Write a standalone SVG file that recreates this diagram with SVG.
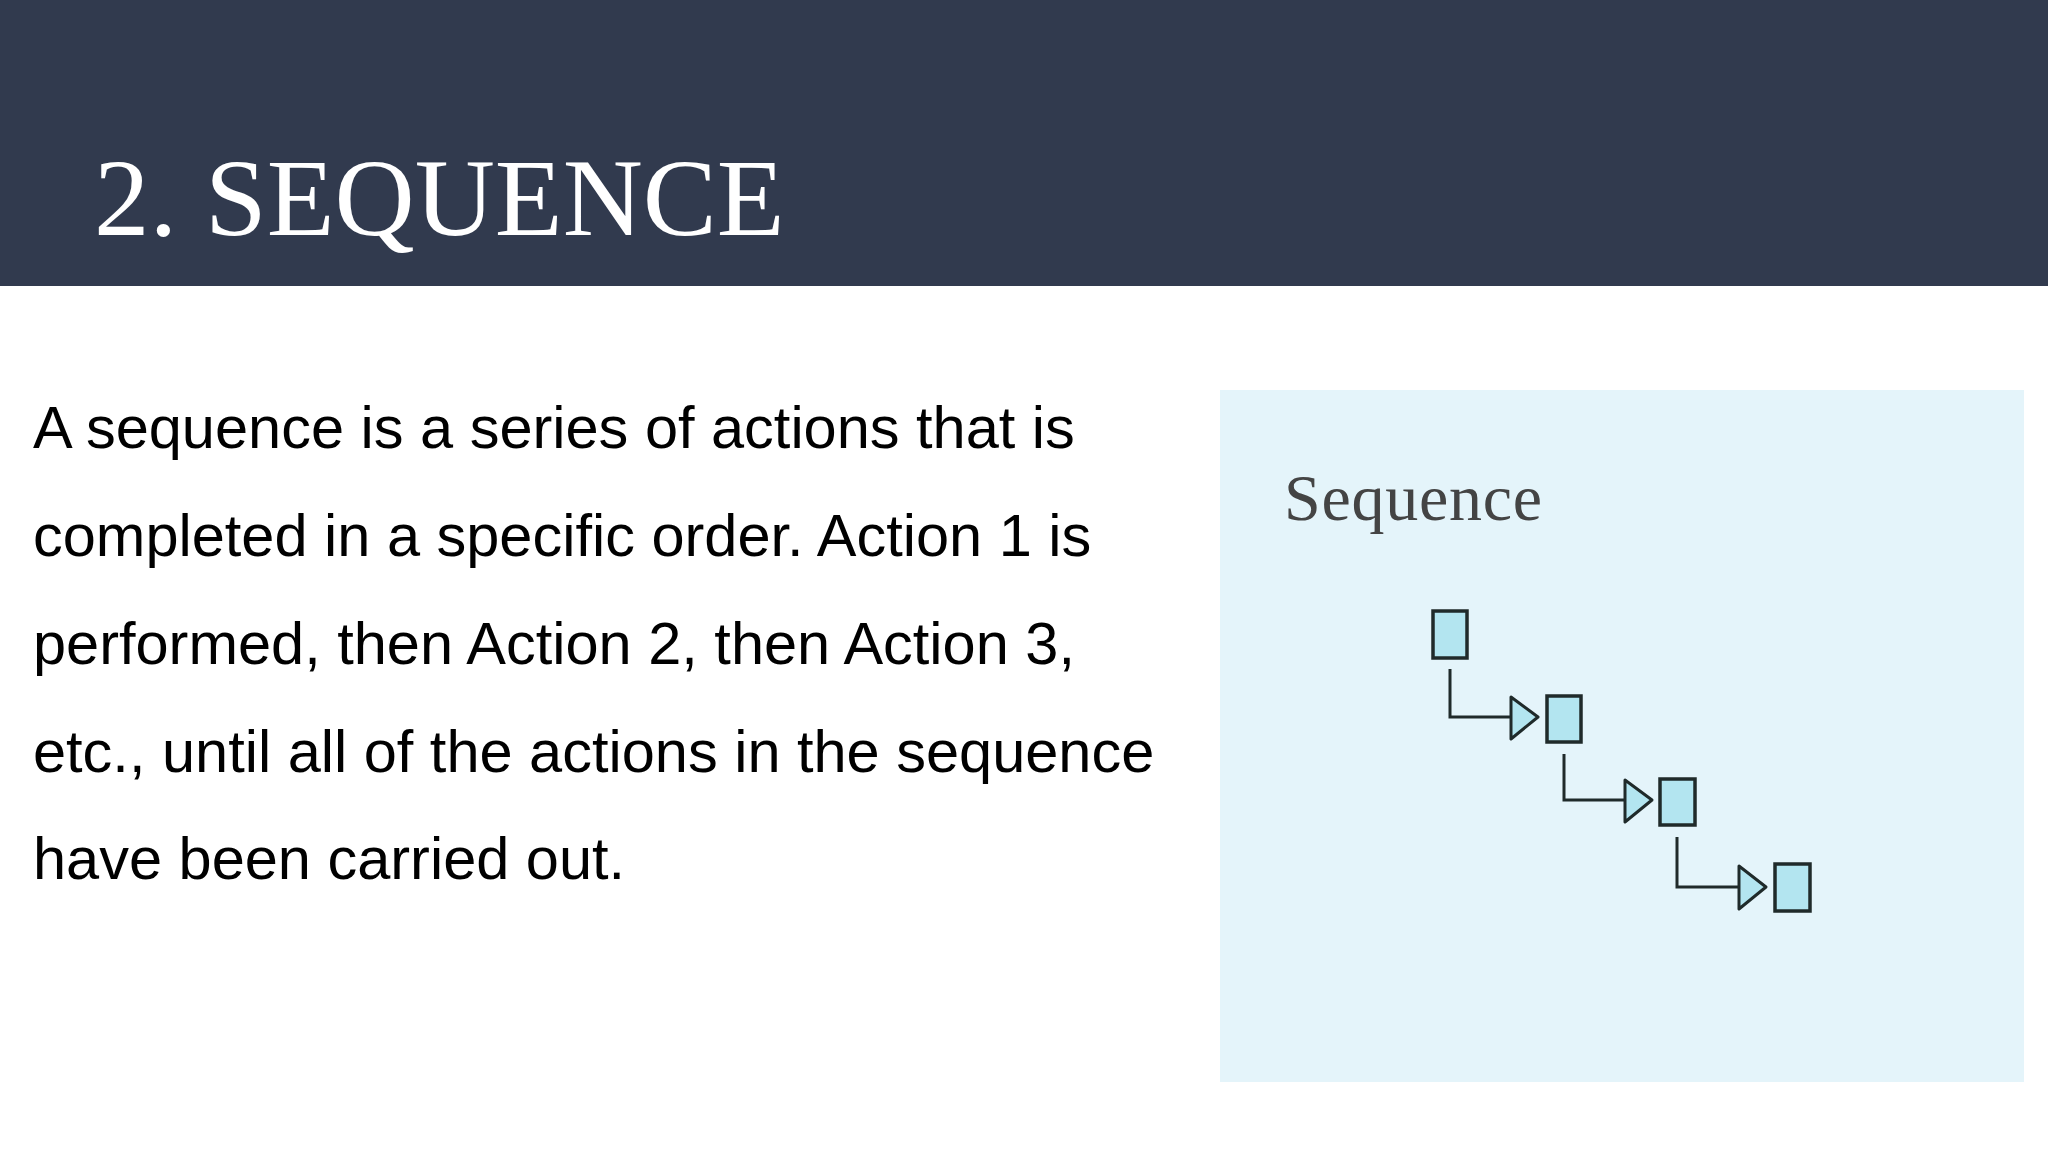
<svg xmlns="http://www.w3.org/2000/svg" width="2048" height="1152" viewBox="0 0 2048 1152">
<style>
.body{font-family:"Liberation Sans",Arial,sans-serif;font-size:59.5px;fill:#000}
.box{fill:#b3e5f0;stroke:#1f2a2a;stroke-width:3.5}
.ln{fill:none;stroke:#1f2a2a;stroke-width:3}
.tri{fill:#b3e5f0;stroke:#1f2a2a;stroke-width:3;stroke-linejoin:round}
</style>
<rect width="2048" height="1152" fill="#fff"/>
<rect width="2048" height="286" fill="#313a4e"/>
<text x="94" y="235" font-family="Liberation Serif,serif" font-size="111" fill="#fff">2. SEQUENCE</text>
<g id="bodytext">
<text class="body" x="33" y="448">A sequence is a series of actions that is</text>
<text class="body" x="33" y="556">completed in a specific order. Action 1 is</text>
<text class="body" x="33" y="664">performed, then Action 2, then Action 3,</text>
<text class="body" x="33" y="772">etc., until all of the actions in the sequence</text>
<text class="body" x="33" y="879">have been carried out.</text>
</g>
<rect x="1220" y="390" width="804" height="692" fill="#e4f4fa"/>
<text x="1284" y="520" font-family="Liberation Serif,serif" font-size="66" fill="#444" textLength="258">Sequence</text>
<g id="connectors">
<path class="ln" d="M1450 669V717H1511"/>
<polygon class="tri" points="1511,697 1538,717 1511,739"/>
<path class="ln" d="M1564 754V800H1625"/>
<polygon class="tri" points="1625,780 1652,800 1625,822"/>
<path class="ln" d="M1677 837V887H1739"/>
<polygon class="tri" points="1739,866 1766,887 1739,909"/>
</g>
<g id="n1"><rect class="box" x="1433" y="611" width="34" height="47"/></g>
<g id="n2"><rect class="box" x="1547" y="696" width="34" height="46"/></g>
<g id="n3"><rect class="box" x="1660" y="779" width="35" height="46"/></g>
<g id="n4"><rect class="box" x="1775" y="864" width="35" height="47"/></g>
</svg>
